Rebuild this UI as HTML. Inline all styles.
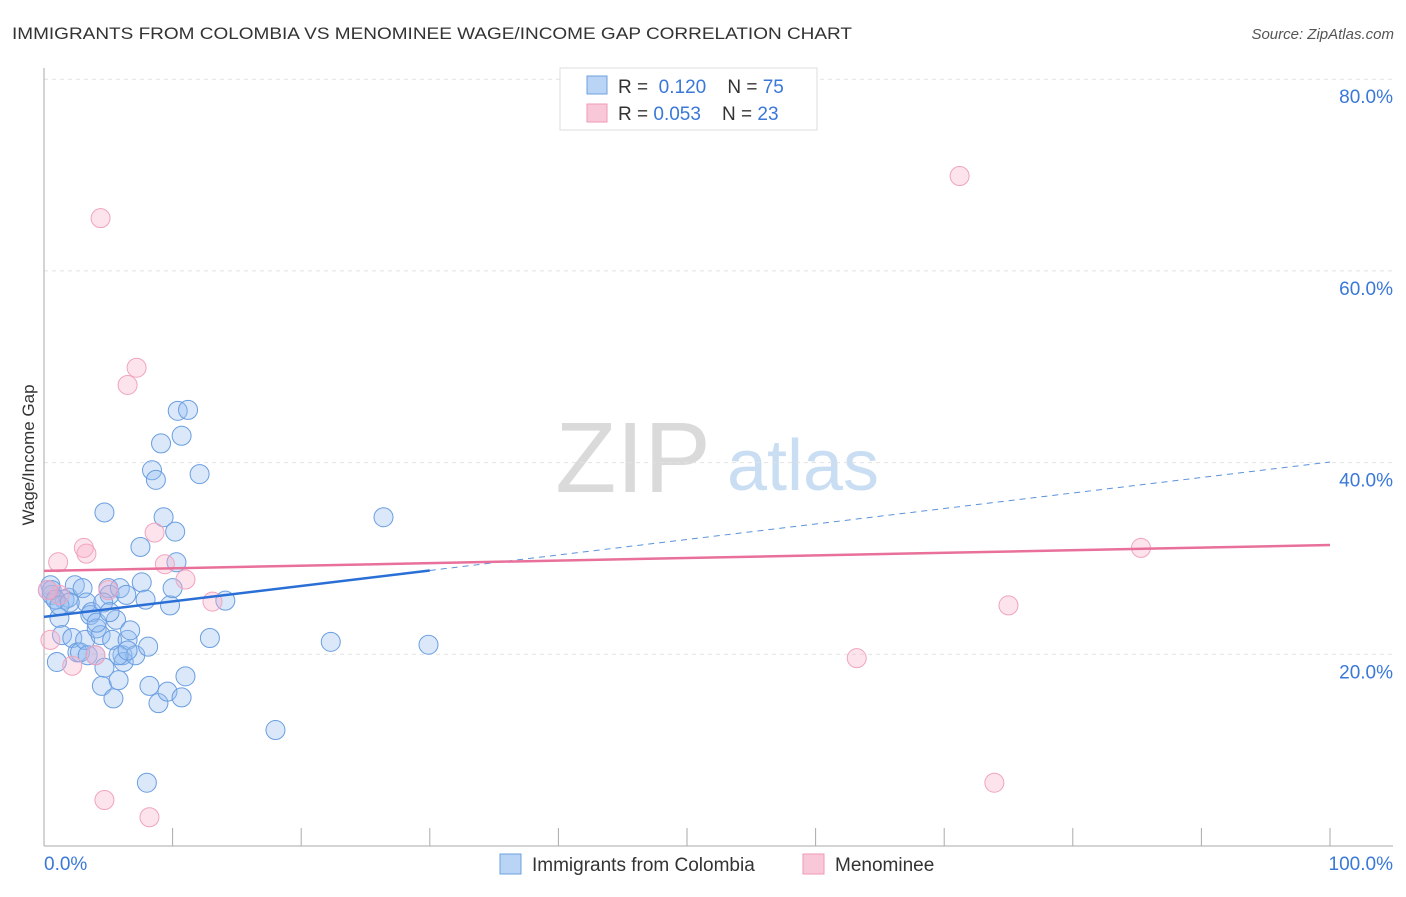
<!DOCTYPE html>
<html><head><meta charset="utf-8"><style>
body{margin:0;background:#fff;font-family:"Liberation Sans",sans-serif;}
svg text{font-family:"Liberation Sans",sans-serif;}
</style></head><body>
<svg id="chart" width="1406" height="892">
<text x="12" y="39" font-size="17" fill="#333" textLength="840" lengthAdjust="spacingAndGlyphs">IMMIGRANTS FROM COLOMBIA VS MENOMINEE WAGE/INCOME GAP CORRELATION CHART</text>
<text x="1394" y="39" font-size="15" fill="#555" font-style="italic" text-anchor="end">Source: ZipAtlas.com</text>
<g>
<text x="633" y="492" font-size="100" fill="#dadada" font-family="Liberation Serif" text-anchor="middle">ZIP</text>
<text x="803" y="490" font-size="72" fill="#cadef3" text-anchor="middle">atlas</text>
</g>
<g id="grid"></g>
<g id="axes"></g>
<g id="marks"></g>
<text transform="translate(34,455) rotate(-90)" font-size="17" fill="#333" text-anchor="middle">Wage/Income Gap</text>
<g>
<rect x="560" y="68" width="257" height="62" fill="#fff" stroke="#ddd"/>
<rect x="587" y="76" width="20" height="18" fill="#b9d4f5" stroke="#6ea0e0"/>
<rect x="587" y="104" width="20" height="18" fill="#f9c8d8" stroke="#ee9ab6"/>
<text x="618" y="93" font-size="19" fill="#333">R = <tspan fill="#3a78d8">&#160;0.120</tspan>&#160;&#160;&#160; N = <tspan fill="#3a78d8">75</tspan></text>
<text x="618" y="120" font-size="19" fill="#333">R = <tspan fill="#3a78d8">0.053</tspan>&#160;&#160;&#160; N = <tspan fill="#3a78d8">23</tspan></text>
</g>
<g>
<rect x="500" y="854" width="21" height="20" fill="#b9d4f5" stroke="#6ea0e0"/>
<text x="532" y="871" font-size="19" fill="#333">Immigrants from Colombia</text>
<rect x="803" y="854" width="21" height="20" fill="#f9c8d8" stroke="#ee9ab6"/>
<text x="835" y="871" font-size="19" fill="#333">Menominee</text>
</g>
</svg>
<script>
const blueX=[0.5,0.6,0.9,1.0,1.2,1.4,1.6,1.9,2.2,2.4,2.6,2.8,3.0,3.2,3.3,3.4,3.6,3.7,4.0,4.1,4.4,4.5,4.7,4.7,5.0,5.1,5.3,5.4,5.6,5.8,5.9,6.1,6.2,6.4,6.5,6.7,7.1,7.5,7.6,7.9,8.1,8.2,8.4,8.7,8.9,9.1,9.3,9.6,9.8,10.0,10.2,10.3,10.4,10.7,10.7,11.0,11.2,12.1,12.9,14.1,18.0,8.0,22.3,26.4,29.9,0.6,0.9,1.2,2.0,0.3,4.1,4.6,5.1,5.8,6.5];
const blueY=[27.2,26.2,25.7,19.2,23.8,22.0,25.7,25.9,21.7,27.2,20.2,20.2,26.9,21.5,25.4,19.9,24.1,24.4,19.9,22.7,22.0,16.7,34.8,18.6,26.9,26.2,21.5,15.4,23.6,17.3,26.9,19.9,19.2,26.2,21.5,22.5,19.9,31.2,27.5,25.7,20.8,16.7,39.2,38.2,14.9,42.0,34.3,16.1,25.1,26.9,32.8,29.6,45.4,15.5,42.8,17.7,45.5,38.8,21.7,25.6,12.1,6.6,21.3,34.3,21.0,26.7,25.7,25.1,25.4,26.7,23.3,25.4,24.4,19.9,20.4];
const pinkX=[4.4,71.2,7.2,6.5,8.6,1.1,3.1,3.3,9.4,11.0,13.1,0.5,2.2,4.0,63.2,75.0,85.3,4.7,8.2,73.9,1.2,0.3,5.0];
const pinkY=[65.5,69.9,49.9,48.1,32.7,29.6,31.1,30.5,29.4,27.8,25.5,21.5,18.8,19.9,19.6,25.1,31.1,4.8,3.0,6.6,26.2,26.7,26.7];
const blueTrend=[23.9,40.06];
const pinkTrend=[28.7,31.4];
const yTicks=[20,40,60,80];
const xTickLabels=["0.0%","100.0%"];
const NS="http://www.w3.org/2000/svg";
const X=v=>44+v*12.86, Y=v=>846-v*9.585;
function mk(p,tag,a){const e=document.createElementNS(NS,tag);for(const k in a)e.setAttribute(k,a[k]);p.appendChild(e);return e;}
const grid=document.getElementById('grid'),axes=document.getElementById('axes'),marks=document.getElementById('marks');
yTicks.forEach(t=>{
 const l=mk(grid,'line',{x1:44,x2:1393,y1:Y(t),y2:Y(t),stroke:'#e2e2e2','stroke-dasharray':'4,4'});
 
 
 const tx=mk(grid,'text',{x:1393,y:Y(t)+24,'font-size':19,fill:'#3a78d8','text-anchor':'end'});
 tx.textContent=t.toFixed(1)+'%';
 
 
});
const ya=mk(axes,'line',{x1:44,x2:44,y1:68,y2:846,stroke:'#aaa'});


const xa=mk(axes,'line',{x1:44,x2:1393,y1:846,y2:846,stroke:'#aaa'});


for(let i=0;i<=10;i++){const t=mk(axes,'line',{x1:X(i*10),x2:X(i*10),y1:828,y2:846,stroke:'#aaa'});
 
 }
[[0,'start',44],[100,'end',1393]].forEach((d,i)=>{const t=mk(axes,'text',{x:d[2],y:870,'font-size':19,fill:'#3a78d8','text-anchor':d[1]});t.textContent=xTickLabels[i];
 
 });
function dots(xs,ys,fill,stroke,name){xs.forEach((x,i)=>{const c=mk(marks,'circle',{cx:X(x),cy:Y(ys[i]),r:9.5,fill:fill,stroke:stroke,'stroke-width':1});
 
 });}
dots(blueX,blueY,'rgba(150,190,240,0.35)','#6a9ee0','colombia-point');
dots(pinkX,pinkY,'rgba(248,175,200,0.35)','#f0a4bf','menominee-point');
const b1=mk(marks,'line',{x1:X(0),y1:Y(blueTrend[0]),x2:X(30),y2:Y(blueTrend[0]+(blueTrend[1]-blueTrend[0])*0.3),stroke:'#2a6fd6','stroke-width':2.5});


const b2=mk(marks,'line',{x1:X(30),y1:Y(blueTrend[0]+(blueTrend[1]-blueTrend[0])*0.3),x2:X(100),y2:Y(blueTrend[1]),stroke:'#5a92dc','stroke-width':1,'stroke-dasharray':'6,5'});


const p1=mk(marks,'line',{x1:X(0),y1:Y(pinkTrend[0]),x2:X(100),y2:Y(pinkTrend[1]),stroke:'#e8709a','stroke-width':2.5});


</script>
</body></html>
